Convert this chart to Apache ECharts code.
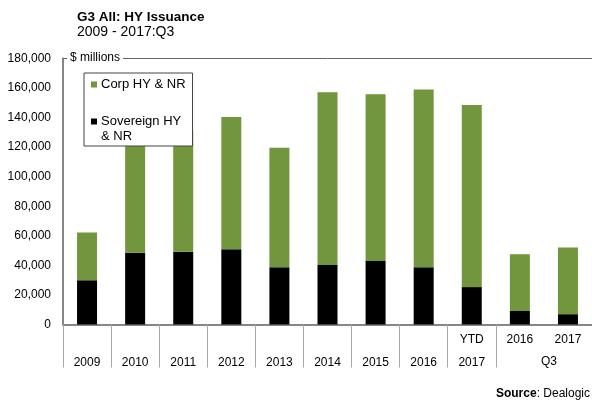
<!DOCTYPE html>
<html>
<head>
<meta charset="utf-8">
<style>
  html, body { margin: 0; padding: 0; background: #fff; }
  #main { width: 592px; height: 403px; }
</style>
<script src="https://cdn.jsdelivr.net/npm/echarts@6/dist/echarts.min.js"></script>
</head>
<body>
<div id="main"></div>
<script>
// categories and the two rows of axis labels
var categories = ['2009', '2010', '2011', '2012', '2013', '2014', '2015', '2016', 'YTD 2017', 'Q3 2016', 'Q3 2017'];
var labelTop = ['', '', '', '', '', '', '', '', 'YTD', '2016', '2017'];
var labelBottom = ['2009', '2010', '2011', '2012', '2013', '2014', '2015', '2016', '2017', '', ''];
var groupLabel = 'Q3';

// $ millions
var sovereign = [30000, 48500, 49200, 51000, 38800, 40200, 42900, 38800, 25300, 9200, 7000];
var corp = [32300, 84500, 81900, 89400, 80800, 116900, 112900, 120300, 123200, 38400, 45100];

var yTicks = { min: 0, max: 180000, interval: 20000 };

var font = 'Liberation Sans, Arial, sans-serif';
var green = '#71963e';
var axisGray = '#868686';

var myChart = echarts.init(document.getElementById('main'));
myChart.setOption({
  animation: false,
  textStyle: { fontFamily: font },
  legend: {
    orient: 'vertical',
    left: 84,
    top: 73,
    padding: [4, 7, 17, 7],
    itemGap: 22,
    itemWidth: 6,
    itemHeight: 6,
    icon: 'rect',
    borderColor: '#444',
    borderWidth: 1,
    backgroundColor: '#fff',
    z: 10,
    data: ['Corp HY & NR', 'Sovereign HY & NR'],
    // second line of the long name is drawn under the legend text below
    formatter: function (name) {
      return name === 'Sovereign HY & NR' ? 'Sovereign HY' : name;
    },
    textStyle: { fontFamily: font, fontSize: 13, color: '#000', lineHeight: 15, padding: [0, 0, 0, -1] }
  },
  grid: {
    left: 63,
    right: -6,
    top: 58.5,
    bottom: 78.5,
    containLabel: false
  },
  xAxis: [{
    type: 'category',
    data: categories,
    axisLine: { lineStyle: { color: axisGray, width: 2 } },
    axisTick: {
      show: true,
      length: 43,
      interval: function (i) { return i !== 10; },
      lineStyle: { color: '#a8a8a8', width: 1 }
    },
    axisLabel: {
      interval: 0,
      margin: 4,
      fontSize: 12,
      color: '#000',
      lineHeight: 23,
      formatter: function (v, i) { return labelTop[i] + '\n' + labelBottom[i]; }
    }
  }, {
    type: 'category',
    position: 'top',
    data: categories,
    axisLine: { show: true, lineStyle: { color: '#666', width: 1 } },
    axisTick: { show: false },
    axisLabel: { show: false }
  }],
  yAxis: {
    type: 'value',
    min: yTicks.min,
    max: yTicks.max,
    interval: yTicks.interval,
    axisLine: { show: true, lineStyle: { color: axisGray, width: 2 } },
    axisTick: { show: false },
    splitLine: { show: false },
    axisLabel: {
      margin: 12,
      fontSize: 12,
      color: '#000',
      formatter: function (v) { return v.toLocaleString('en-US'); }
    }
  },
  series: [{
    name: 'Sovereign HY & NR',
    type: 'bar',
    stack: 'hy',
    barWidth: 20,
    itemStyle: { color: '#000' },
    data: sovereign
  }, {
    name: 'Corp HY & NR',
    type: 'bar',
    stack: 'hy',
    barWidth: 20,
    itemStyle: { color: green },
    data: corp
  }],
  graphic: [{
    type: 'text',
    z: 100,
    x: 77,
    y: 17.5,
    style: {
      text: 'G3 All: HY Issuance',
      font: 'bold 13.5px ' + font,
      fill: '#000',
      verticalAlign: 'middle'
    }
  }, {
    type: 'text',
    z: 100,
    x: 77,
    y: 32,
    style: {
      text: '2009 - 2017:Q3',
      font: '14px ' + font,
      fill: '#000',
      verticalAlign: 'middle'
    }
  }, {
    type: 'text',
    z: 100,
    left: 67,
    top: 51,
    style: {
      text: '$ millions',
      font: '12px ' + font,
      fill: '#000',
      backgroundColor: '#fff',
      padding: [1, 3]
    }
  }, {
    type: 'text',
    z: 100,
    x: 101,
    y: 136,
    style: {
      text: '& NR',
      font: '13px ' + font,
      fill: '#000',
      verticalAlign: 'middle'
    }
  }, {
    type: 'text',
    z: 100,
    x: 549,
    y: 362,
    style: {
      text: groupLabel,
      font: '12px ' + font,
      fill: '#000',
      align: 'center',
      verticalAlign: 'middle'
    }
  }, {
    type: 'text',
    z: 100,
    x: 590,
    y: 394,
    style: {
      text: '{b|Source}: Dealogic',
      font: '12px ' + font,
      fill: '#000',
      align: 'right',
      verticalAlign: 'middle',
      rich: {
        b: { fontWeight: 'bold', fontFamily: font, fontSize: 12, fill: '#000' }
      }
    }
  }]
});
window.addEventListener('resize', function () {
  myChart.resize();
});
</script>
</body>
</html>
